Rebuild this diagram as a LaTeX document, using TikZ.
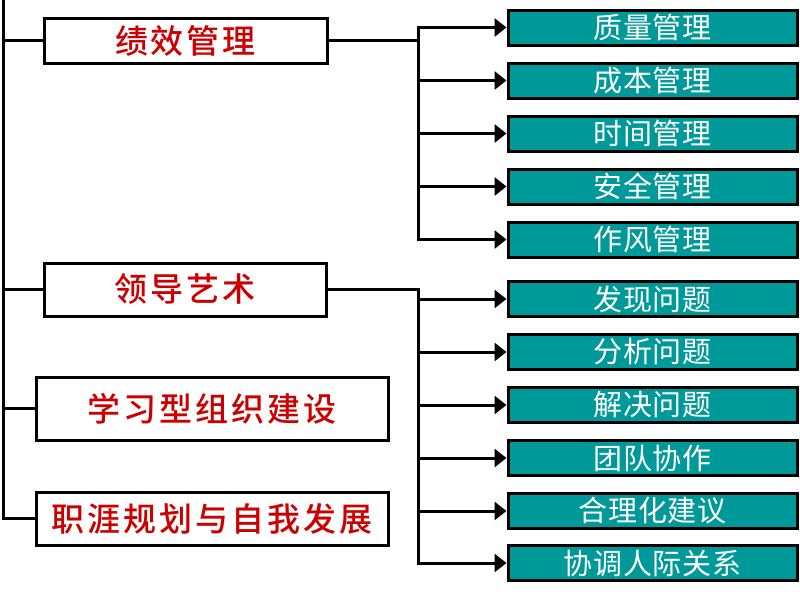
\documentclass[tikz,border=0pt]{standalone}
\usepackage{fontspec}
\usetikzlibrary{arrows.meta}
\newfontfamily\redfont{Noto Sans CJK SC Medium}[LetterSpace=9]
\newfontfamily\whitefont{Noto Sans CJK SC}[LetterSpace=3]
\definecolor{teal1}{RGB}{0,153,153}
\definecolor{red1}{RGB}{204,0,0}
\tikzset{
  mainbox/.style={draw=black, line width=3pt, fill=white, inner sep=0pt,
    font=\redfont\fontsize{33}{36}\selectfont, text=red1},
  subbox/.style={draw=black, line width=3pt, fill=teal1, inner sep=0pt,
    minimum width=289pt, minimum height=35pt,
    font=\whitefont\fontsize{29}{32}\selectfont, text=white},
  wire/.style={line width=3pt, draw=black},
  arr/.style={wire, -{Triangle[length=12pt,width=18pt]}}
}
\begin{document}
\begin{tikzpicture}[x=1pt,y=-1pt]
\useasboundingbox (0,0) rectangle (800,595);
% main boxes
\node[mainbox, minimum width=283pt, minimum height=45pt] (m1) at (185.5,40.5) {绩效管理};
\node[mainbox, minimum width=282pt, minimum height=53pt] (m2) at (185,289.5) {领导艺术};
\node[mainbox, minimum width=352pt, minimum height=63pt] (m3) at (212,408.5) {学习型组织建设};
\node[mainbox, minimum width=352pt, minimum height=53pt] (m4) at (212,518.5) {职涯规划与自我发展};
% sub boxes
\node[subbox] (s1) at (652.5,27.5) {质量管理};
\node[subbox] (s2) at (652.5,80.5) {成本管理};
\node[subbox] (s3) at (652.5,133.5) {时间管理};
\node[subbox] (s4) at (652.5,186.5) {安全管理};
\node[subbox] (s5) at (652.5,239.5) {作风管理};
\node[subbox] (t1) at (652.5,299) {发现问题};
\node[subbox] (t2) at (652.5,352) {分析问题};
\node[subbox] (t3) at (652.5,405) {解决问题};
\node[subbox] (t4) at (652.5,458) {团队协作};
\node[subbox] (t5) at (652.5,511) {合理化建议};
\node[subbox] (t6) at (652.5,563) {协调人际关系};
% left trunk
\coordinate (top) at (3,-2);
\draw[wire] (top) |- (m4.west);
\draw[wire] (top |- m1.west) -- (m1.west);
\draw[wire] (top |- m2.west) -- (m2.west);
\draw[wire] (top |- m3.west) -- (m3.west);
% first group
\coordinate (j1) at (418,40.5);
\draw[wire] (m1.east) -- (j1);
\draw[wire, line cap=rect] (j1 |- s1.west) -- (j1 |- s5.west);
\foreach \n in {s1,s2,s3,s4,s5}
  \draw[arr] (j1 |- \n.west) -- (\n.west);
% second group
\coordinate (j2) at (418,289.5);
\draw[wire, line cap=rect] (m2.east) -- (j2) -- (j2 |- t6.west);
\foreach \n in {t1,t2,t3,t4,t5,t6}
  \draw[arr] (j2 |- \n.west) -- (\n.west);
\end{tikzpicture}
\end{document}
